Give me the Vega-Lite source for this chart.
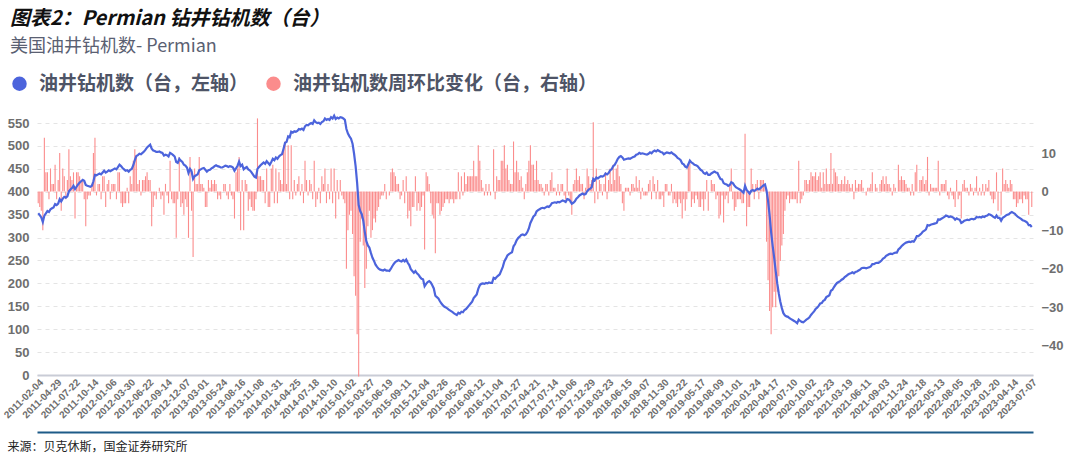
{
"$schema":"https://vega.github.io/schema/vega-lite/v6.json",
"width":1080,"height":456,
"autosize":{"type":"fit","contains":"padding"},
"padding":{"left":2,"right":16,"top":11,"bottom":4},
"background":"white",
"config":{"view":{"stroke":null},"font":"Noto Sans CJK SC"},
"title":{"text":"图表2：Permian 钻井钻机数（台）","subtitle":"美国油井钻机数- Permian","anchor":"start","frame":"bounds","dx":8,"font":"Noto Sans CJK SC","fontSize":20,"fontStyle":"italic","fontWeight":"bold","color":"#111111","subtitleFont":"Noto Sans CJK SC","subtitleFontSize":18,"subtitleColor":"#5a6072","subtitlePadding":9,"offset":55},
"data":{"values":[
{"d":"2011-02-04","n":353,"c":-3},{"d":"2011-02-11","n":349,"c":-4},{"d":"2011-02-18","n":344,"c":-5},{"d":"2011-02-25","n":334,"c":-10},{"d":"2011-03-04","n":348,"c":14},{"d":"2011-03-11","n":353,"c":5},{"d":"2011-03-18","n":358,"c":5},{"d":"2011-03-25","n":356,"c":-2},{"d":"2011-04-01","n":362,"c":6},{"d":"2011-04-08","n":364,"c":2},{"d":"2011-04-15","n":366,"c":2},{"d":"2011-04-22","n":373,"c":7},{"d":"2011-04-29","n":371,"c":-2},{"d":"2011-05-06","n":374,"c":3},{"d":"2011-05-13","n":384,"c":10},{"d":"2011-05-20","n":379,"c":-5},{"d":"2011-05-27","n":385,"c":6},{"d":"2011-06-03","n":389,"c":4},{"d":"2011-06-10","n":387,"c":-2},{"d":"2011-06-17","n":390,"c":3},{"d":"2011-06-24","n":401,"c":11},{"d":"2011-07-01","n":405,"c":4},{"d":"2011-07-08","n":408,"c":3},{"d":"2011-07-15","n":413,"c":5},{"d":"2011-07-22","n":406,"c":-7},{"d":"2011-07-29","n":411,"c":5},{"d":"2011-08-05","n":416,"c":5},{"d":"2011-08-12","n":420,"c":4},{"d":"2011-08-19","n":423,"c":3},{"d":"2011-08-26","n":426,"c":3},{"d":"2011-09-02","n":424,"c":-2},{"d":"2011-09-09","n":415,"c":-9},{"d":"2011-09-16","n":413,"c":-2},{"d":"2011-09-23","n":412,"c":-1},{"d":"2011-09-30","n":411,"c":-1},{"d":"2011-10-07","n":413,"c":2},{"d":"2011-10-14","n":423,"c":10},{"d":"2011-10-21","n":437,"c":14},{"d":"2011-10-28","n":436,"c":-1},{"d":"2011-11-04","n":438,"c":2},{"d":"2011-11-11","n":440,"c":2},{"d":"2011-11-18","n":438,"c":-2},{"d":"2011-11-25","n":442,"c":4},{"d":"2011-12-02","n":446,"c":4},{"d":"2011-12-09","n":442,"c":-4},{"d":"2011-12-16","n":444,"c":2},{"d":"2011-12-23","n":447,"c":3},{"d":"2011-12-30","n":445,"c":-2},
{"d":"2012-01-06","n":447,"c":2},{"d":"2012-01-13","n":449,"c":2},{"d":"2012-01-20","n":451,"c":2},{"d":"2012-01-27","n":449,"c":-2},{"d":"2012-02-03","n":454,"c":5},{"d":"2012-02-10","n":459,"c":5},{"d":"2012-02-17","n":456,"c":-3},{"d":"2012-02-24","n":452,"c":-4},{"d":"2012-03-02","n":449,"c":-3},{"d":"2012-03-09","n":446,"c":-3},{"d":"2012-03-16","n":447,"c":1},{"d":"2012-03-23","n":444,"c":-3},{"d":"2012-03-30","n":448,"c":4},{"d":"2012-04-06","n":450,"c":2},{"d":"2012-04-13","n":458,"c":8},{"d":"2012-04-20","n":469,"c":11},{"d":"2012-04-27","n":478,"c":9},{"d":"2012-05-04","n":480,"c":2},{"d":"2012-05-11","n":483,"c":3},{"d":"2012-05-18","n":482,"c":-1},{"d":"2012-05-25","n":485,"c":3},{"d":"2012-06-01","n":488,"c":3},{"d":"2012-06-08","n":492,"c":4},{"d":"2012-06-15","n":497,"c":5},{"d":"2012-06-22","n":500,"c":3},{"d":"2012-06-29","n":503,"c":3},{"d":"2012-07-06","n":494,"c":-9},{"d":"2012-07-13","n":490,"c":-4},{"d":"2012-07-20","n":489,"c":-1},{"d":"2012-07-27","n":487,"c":-2},{"d":"2012-08-03","n":487,"c":0},{"d":"2012-08-10","n":488,"c":1},{"d":"2012-08-17","n":486,"c":-2},{"d":"2012-08-24","n":485,"c":-1},{"d":"2012-08-31","n":479,"c":-6},{"d":"2012-09-07","n":481,"c":2},{"d":"2012-09-14","n":480,"c":-1},{"d":"2012-09-21","n":477,"c":-3},{"d":"2012-09-28","n":485,"c":8},{"d":"2012-10-05","n":483,"c":-2},{"d":"2012-10-12","n":480,"c":-3},{"d":"2012-10-19","n":477,"c":-3},{"d":"2012-10-26","n":465,"c":-12},{"d":"2012-11-02","n":463,"c":-2},{"d":"2012-11-09","n":472,"c":9},{"d":"2012-11-16","n":468,"c":-4},{"d":"2012-11-23","n":465,"c":-3},{"d":"2012-11-30","n":459,"c":-6},{"d":"2012-12-07","n":457,"c":-2},{"d":"2012-12-14","n":453,"c":-4},{"d":"2012-12-21","n":441,"c":-12},{"d":"2012-12-28","n":450,"c":9},
{"d":"2013-01-04","n":445,"c":-5},{"d":"2013-01-11","n":428,"c":-17},{"d":"2013-01-18","n":434,"c":6},{"d":"2013-01-25","n":436,"c":2},{"d":"2013-02-01","n":438,"c":2},{"d":"2013-02-08","n":447,"c":9},{"d":"2013-02-15","n":449,"c":2},{"d":"2013-02-22","n":451,"c":2},{"d":"2013-03-01","n":452,"c":1},{"d":"2013-03-08","n":448,"c":-4},{"d":"2013-03-15","n":444,"c":-4},{"d":"2013-03-22","n":447,"c":3},{"d":"2013-03-29","n":448,"c":1},{"d":"2013-04-05","n":451,"c":3},{"d":"2013-04-12","n":453,"c":2},{"d":"2013-04-19","n":456,"c":3},{"d":"2013-04-26","n":458,"c":2},{"d":"2013-05-03","n":456,"c":-2},{"d":"2013-05-10","n":455,"c":-1},{"d":"2013-05-17","n":453,"c":-2},{"d":"2013-05-24","n":453,"c":0},{"d":"2013-05-31","n":455,"c":2},{"d":"2013-06-07","n":457,"c":2},{"d":"2013-06-14","n":456,"c":-1},{"d":"2013-06-21","n":454,"c":-2},{"d":"2013-06-28","n":456,"c":2},{"d":"2013-07-05","n":455,"c":-1},{"d":"2013-07-12","n":453,"c":-2},{"d":"2013-07-19","n":446,"c":-7},{"d":"2013-07-26","n":451,"c":5},{"d":"2013-08-02","n":457,"c":6},{"d":"2013-08-09","n":466,"c":9},{"d":"2013-08-16","n":456,"c":-10},{"d":"2013-08-23","n":459,"c":3},{"d":"2013-08-30","n":449,"c":-10},{"d":"2013-09-06","n":452,"c":3},{"d":"2013-09-13","n":454,"c":2},{"d":"2013-09-20","n":449,"c":-5},{"d":"2013-09-27","n":447,"c":-2},{"d":"2013-10-04","n":443,"c":-4},{"d":"2013-10-11","n":438,"c":-5},{"d":"2013-10-18","n":433,"c":-5},{"d":"2013-10-25","n":431,"c":-2},{"d":"2013-11-01","n":450,"c":19},{"d":"2013-11-08","n":454,"c":4},{"d":"2013-11-15","n":458,"c":4},{"d":"2013-11-22","n":461,"c":3},{"d":"2013-11-29","n":464,"c":3},{"d":"2013-12-06","n":461,"c":-3},{"d":"2013-12-13","n":467,"c":6},{"d":"2013-12-20","n":463,"c":-4},{"d":"2013-12-27","n":459,"c":-4},
{"d":"2014-01-03","n":465,"c":6},{"d":"2014-01-10","n":472,"c":7},{"d":"2014-01-17","n":469,"c":-3},{"d":"2014-01-24","n":475,"c":6},{"d":"2014-01-31","n":472,"c":-3},{"d":"2014-02-07","n":477,"c":5},{"d":"2014-02-14","n":480,"c":3},{"d":"2014-02-21","n":482,"c":2},{"d":"2014-02-28","n":494,"c":12},{"d":"2014-03-07","n":507,"c":13},{"d":"2014-03-14","n":509,"c":2},{"d":"2014-03-21","n":521,"c":12},{"d":"2014-03-28","n":519,"c":-2},{"d":"2014-04-04","n":531,"c":12},{"d":"2014-04-11","n":529,"c":-2},{"d":"2014-04-18","n":532,"c":3},{"d":"2014-04-25","n":531,"c":-1},{"d":"2014-05-02","n":533,"c":2},{"d":"2014-05-09","n":537,"c":4},{"d":"2014-05-16","n":536,"c":-1},{"d":"2014-05-23","n":538,"c":2},{"d":"2014-05-30","n":535,"c":-3},{"d":"2014-06-06","n":543,"c":8},{"d":"2014-06-13","n":546,"c":3},{"d":"2014-06-20","n":545,"c":-1},{"d":"2014-06-27","n":548,"c":3},{"d":"2014-07-04","n":550,"c":2},{"d":"2014-07-11","n":548,"c":-2},{"d":"2014-07-18","n":556,"c":8},{"d":"2014-07-25","n":552,"c":-4},{"d":"2014-08-01","n":550,"c":-2},{"d":"2014-08-08","n":551,"c":1},{"d":"2014-08-15","n":548,"c":-3},{"d":"2014-08-22","n":552,"c":4},{"d":"2014-08-29","n":554,"c":2},{"d":"2014-09-05","n":560,"c":6},{"d":"2014-09-12","n":557,"c":-3},{"d":"2014-09-19","n":559,"c":2},{"d":"2014-09-26","n":557,"c":-2},{"d":"2014-10-03","n":563,"c":6},{"d":"2014-10-10","n":560,"c":-3},{"d":"2014-10-17","n":566,"c":6},{"d":"2014-10-24","n":559,"c":-7},{"d":"2014-10-31","n":562,"c":3},{"d":"2014-11-07","n":560,"c":-2},{"d":"2014-11-14","n":563,"c":3},{"d":"2014-11-21","n":562,"c":-1},{"d":"2014-11-28","n":560,"c":-2},{"d":"2014-12-05","n":557,"c":-3},{"d":"2014-12-12","n":537,"c":-20},{"d":"2014-12-19","n":527,"c":-10},{"d":"2014-12-26","n":521,"c":-6},
{"d":"2015-01-02","n":516,"c":-5},{"d":"2015-01-09","n":505,"c":-11},{"d":"2015-01-16","n":483,"c":-22},{"d":"2015-01-23","n":456,"c":-27},{"d":"2015-01-30","n":419,"c":-37},{"d":"2015-02-06","n":371,"c":-48},{"d":"2015-02-13","n":358,"c":-13},{"d":"2015-02-20","n":351,"c":-7},{"d":"2015-02-27","n":337,"c":-14},{"d":"2015-03-06","n":312,"c":-25},{"d":"2015-03-13","n":292,"c":-20},{"d":"2015-03-20","n":283,"c":-9},{"d":"2015-03-27","n":278,"c":-5},{"d":"2015-04-03","n":266,"c":-12},{"d":"2015-04-10","n":256,"c":-10},{"d":"2015-04-17","n":249,"c":-7},{"d":"2015-04-24","n":241,"c":-8},{"d":"2015-05-01","n":236,"c":-5},{"d":"2015-05-08","n":232,"c":-4},{"d":"2015-05-15","n":230,"c":-2},{"d":"2015-05-22","n":229,"c":-1},{"d":"2015-05-29","n":228,"c":-1},{"d":"2015-06-05","n":230,"c":2},{"d":"2015-06-12","n":228,"c":-2},{"d":"2015-06-19","n":228,"c":0},{"d":"2015-06-26","n":227,"c":-1},{"d":"2015-07-03","n":232,"c":5},{"d":"2015-07-10","n":238,"c":6},{"d":"2015-07-17","n":243,"c":5},{"d":"2015-07-24","n":247,"c":4},{"d":"2015-07-31","n":249,"c":2},{"d":"2015-08-07","n":251,"c":2},{"d":"2015-08-14","n":249,"c":-2},{"d":"2015-08-21","n":248,"c":-1},{"d":"2015-08-28","n":251,"c":3},{"d":"2015-09-04","n":248,"c":-3},{"d":"2015-09-11","n":252,"c":4},{"d":"2015-09-18","n":245,"c":-7},{"d":"2015-09-25","n":240,"c":-5},{"d":"2015-10-02","n":231,"c":-9},{"d":"2015-10-09","n":227,"c":-4},{"d":"2015-10-16","n":223,"c":-4},{"d":"2015-10-23","n":227,"c":4},{"d":"2015-10-30","n":222,"c":-5},{"d":"2015-11-06","n":219,"c":-3},{"d":"2015-11-13","n":214,"c":-5},{"d":"2015-11-20","n":210,"c":-4},{"d":"2015-11-27","n":209,"c":-1},{"d":"2015-12-04","n":194,"c":-15},{"d":"2015-12-11","n":199,"c":5},{"d":"2015-12-18","n":203,"c":4},{"d":"2015-12-25","n":205,"c":2},
{"d":"2016-01-01","n":202,"c":-3},{"d":"2016-01-08","n":196,"c":-6},{"d":"2016-01-15","n":189,"c":-7},{"d":"2016-01-22","n":173,"c":-16},{"d":"2016-01-29","n":170,"c":-3},{"d":"2016-02-05","n":167,"c":-3},{"d":"2016-02-12","n":161,"c":-6},{"d":"2016-02-19","n":156,"c":-5},{"d":"2016-02-26","n":152,"c":-4},{"d":"2016-03-04","n":149,"c":-3},{"d":"2016-03-11","n":147,"c":-2},{"d":"2016-03-18","n":145,"c":-2},{"d":"2016-03-25","n":142,"c":-3},{"d":"2016-04-01","n":140,"c":-2},{"d":"2016-04-08","n":138,"c":-2},{"d":"2016-04-15","n":135,"c":-3},{"d":"2016-04-22","n":133,"c":-2},{"d":"2016-04-29","n":131,"c":-2},{"d":"2016-05-06","n":136,"c":5},{"d":"2016-05-13","n":134,"c":-2},{"d":"2016-05-20","n":138,"c":4},{"d":"2016-05-27","n":137,"c":-1},{"d":"2016-06-03","n":142,"c":5},{"d":"2016-06-10","n":144,"c":2},{"d":"2016-06-17","n":148,"c":4},{"d":"2016-06-24","n":152,"c":4},{"d":"2016-07-01","n":156,"c":4},{"d":"2016-07-08","n":160,"c":4},{"d":"2016-07-15","n":168,"c":8},{"d":"2016-07-22","n":172,"c":4},{"d":"2016-07-29","n":176,"c":4},{"d":"2016-08-05","n":188,"c":12},{"d":"2016-08-12","n":196,"c":8},{"d":"2016-08-19","n":199,"c":3},{"d":"2016-08-26","n":200,"c":1},{"d":"2016-09-02","n":199,"c":-1},{"d":"2016-09-09","n":201,"c":2},{"d":"2016-09-16","n":200,"c":-1},{"d":"2016-09-23","n":202,"c":2},{"d":"2016-09-30","n":201,"c":-1},{"d":"2016-10-07","n":201,"c":0},{"d":"2016-10-14","n":212,"c":11},{"d":"2016-10-21","n":210,"c":-2},{"d":"2016-10-28","n":214,"c":4},{"d":"2016-11-04","n":217,"c":3},{"d":"2016-11-11","n":220,"c":3},{"d":"2016-11-18","n":228,"c":8},{"d":"2016-11-25","n":236,"c":8},{"d":"2016-12-02","n":248,"c":12},{"d":"2016-12-09","n":254,"c":6},{"d":"2016-12-16","n":261,"c":7},{"d":"2016-12-23","n":264,"c":3},{"d":"2016-12-30","n":266,"c":2},
{"d":"2017-01-06","n":268,"c":2},{"d":"2017-01-13","n":281,"c":13},{"d":"2017-01-20","n":286,"c":5},{"d":"2017-01-27","n":294,"c":8},{"d":"2017-02-03","n":299,"c":5},{"d":"2017-02-10","n":302,"c":3},{"d":"2017-02-17","n":306,"c":4},{"d":"2017-02-24","n":307,"c":1},{"d":"2017-03-03","n":305,"c":-2},{"d":"2017-03-10","n":307,"c":2},{"d":"2017-03-17","n":312,"c":5},{"d":"2017-03-24","n":320,"c":8},{"d":"2017-03-31","n":332,"c":12},{"d":"2017-04-07","n":339,"c":7},{"d":"2017-04-14","n":346,"c":7},{"d":"2017-04-21","n":349,"c":3},{"d":"2017-04-28","n":357,"c":8},{"d":"2017-05-05","n":360,"c":3},{"d":"2017-05-12","n":362,"c":2},{"d":"2017-05-19","n":364,"c":2},{"d":"2017-05-26","n":365,"c":1},{"d":"2017-06-02","n":364,"c":-1},{"d":"2017-06-09","n":366,"c":2},{"d":"2017-06-16","n":368,"c":2},{"d":"2017-06-23","n":367,"c":-1},{"d":"2017-06-30","n":370,"c":3},{"d":"2017-07-07","n":375,"c":5},{"d":"2017-07-14","n":376,"c":1},{"d":"2017-07-21","n":377,"c":1},{"d":"2017-07-28","n":376,"c":-1},{"d":"2017-08-04","n":378,"c":2},{"d":"2017-08-11","n":377,"c":-1},{"d":"2017-08-18","n":379,"c":2},{"d":"2017-08-25","n":381,"c":2},{"d":"2017-09-01","n":380,"c":-1},{"d":"2017-09-08","n":378,"c":-2},{"d":"2017-09-15","n":384,"c":6},{"d":"2017-09-22","n":383,"c":-1},{"d":"2017-09-29","n":380,"c":-3},{"d":"2017-10-06","n":374,"c":-6},{"d":"2017-10-13","n":376,"c":2},{"d":"2017-10-20","n":379,"c":3},{"d":"2017-10-27","n":385,"c":6},{"d":"2017-11-03","n":388,"c":3},{"d":"2017-11-10","n":392,"c":4},{"d":"2017-11-17","n":394,"c":2},{"d":"2017-11-24","n":396,"c":2},{"d":"2017-12-01","n":394,"c":-2},{"d":"2017-12-08","n":395,"c":1},{"d":"2017-12-15","n":401,"c":6},{"d":"2017-12-22","n":405,"c":4},{"d":"2017-12-29","n":407,"c":2},
{"d":"2018-01-05","n":410,"c":3},{"d":"2018-01-12","n":428,"c":18},{"d":"2018-01-19","n":425,"c":-3},{"d":"2018-01-26","n":431,"c":6},{"d":"2018-02-02","n":429,"c":-2},{"d":"2018-02-09","n":432,"c":3},{"d":"2018-02-16","n":434,"c":2},{"d":"2018-02-23","n":433,"c":-1},{"d":"2018-03-02","n":435,"c":2},{"d":"2018-03-09","n":440,"c":5},{"d":"2018-03-16","n":438,"c":-2},{"d":"2018-03-23","n":441,"c":3},{"d":"2018-03-30","n":447,"c":6},{"d":"2018-04-06","n":449,"c":2},{"d":"2018-04-13","n":456,"c":7},{"d":"2018-04-20","n":459,"c":3},{"d":"2018-04-27","n":465,"c":6},{"d":"2018-05-04","n":472,"c":7},{"d":"2018-05-11","n":476,"c":4},{"d":"2018-05-18","n":478,"c":2},{"d":"2018-05-25","n":475,"c":-3},{"d":"2018-06-01","n":470,"c":-5},{"d":"2018-06-08","n":471,"c":1},{"d":"2018-06-15","n":472,"c":1},{"d":"2018-06-22","n":473,"c":1},{"d":"2018-06-29","n":472,"c":-1},{"d":"2018-07-06","n":474,"c":2},{"d":"2018-07-13","n":476,"c":2},{"d":"2018-07-20","n":477,"c":1},{"d":"2018-07-27","n":481,"c":4},{"d":"2018-08-03","n":482,"c":1},{"d":"2018-08-10","n":485,"c":3},{"d":"2018-08-17","n":483,"c":-2},{"d":"2018-08-24","n":484,"c":1},{"d":"2018-08-31","n":483,"c":-1},{"d":"2018-09-07","n":482,"c":-1},{"d":"2018-09-14","n":481,"c":-1},{"d":"2018-09-21","n":483,"c":2},{"d":"2018-09-28","n":486,"c":3},{"d":"2018-10-05","n":484,"c":-2},{"d":"2018-10-12","n":488,"c":4},{"d":"2018-10-19","n":490,"c":2},{"d":"2018-10-26","n":488,"c":-2},{"d":"2018-11-02","n":491,"c":3},{"d":"2018-11-09","n":489,"c":-2},{"d":"2018-11-16","n":487,"c":-2},{"d":"2018-11-23","n":486,"c":-1},{"d":"2018-11-30","n":482,"c":-4},{"d":"2018-12-07","n":484,"c":2},{"d":"2018-12-14","n":486,"c":2},{"d":"2018-12-21","n":485,"c":-1},{"d":"2018-12-28","n":484,"c":-1},
{"d":"2019-01-04","n":486,"c":2},{"d":"2019-01-11","n":483,"c":-3},{"d":"2019-01-18","n":481,"c":-2},{"d":"2019-01-25","n":478,"c":-3},{"d":"2019-02-01","n":474,"c":-4},{"d":"2019-02-08","n":472,"c":-2},{"d":"2019-02-15","n":469,"c":-3},{"d":"2019-02-22","n":462,"c":-7},{"d":"2019-03-01","n":460,"c":-2},{"d":"2019-03-08","n":455,"c":-5},{"d":"2019-03-15","n":453,"c":-2},{"d":"2019-03-22","n":460,"c":7},{"d":"2019-03-29","n":468,"c":8},{"d":"2019-04-05","n":464,"c":-4},{"d":"2019-04-12","n":462,"c":-2},{"d":"2019-04-19","n":459,"c":-3},{"d":"2019-04-26","n":458,"c":-1},{"d":"2019-05-03","n":456,"c":-2},{"d":"2019-05-10","n":452,"c":-4},{"d":"2019-05-17","n":448,"c":-4},{"d":"2019-05-24","n":446,"c":-2},{"d":"2019-05-31","n":441,"c":-5},{"d":"2019-06-07","n":439,"c":-2},{"d":"2019-06-14","n":442,"c":3},{"d":"2019-06-21","n":437,"c":-5},{"d":"2019-06-28","n":437,"c":0},{"d":"2019-07-05","n":440,"c":3},{"d":"2019-07-12","n":442,"c":2},{"d":"2019-07-19","n":444,"c":2},{"d":"2019-07-26","n":442,"c":-2},{"d":"2019-08-02","n":441,"c":-1},{"d":"2019-08-09","n":434,"c":-7},{"d":"2019-08-16","n":428,"c":-6},{"d":"2019-08-23","n":427,"c":-1},{"d":"2019-08-30","n":419,"c":-8},{"d":"2019-09-06","n":417,"c":-2},{"d":"2019-09-13","n":416,"c":-1},{"d":"2019-09-20","n":413,"c":-3},{"d":"2019-09-27","n":415,"c":2},{"d":"2019-10-04","n":421,"c":6},{"d":"2019-10-11","n":419,"c":-2},{"d":"2019-10-18","n":414,"c":-5},{"d":"2019-10-25","n":410,"c":-4},{"d":"2019-11-01","n":408,"c":-2},{"d":"2019-11-08","n":406,"c":-2},{"d":"2019-11-15","n":404,"c":-2},{"d":"2019-11-22","n":401,"c":-3},{"d":"2019-11-29","n":398,"c":-3},{"d":"2019-12-06","n":413,"c":15},{"d":"2019-12-13","n":404,"c":-9},{"d":"2019-12-20","n":400,"c":-4},{"d":"2019-12-27","n":396,"c":-4},
{"d":"2020-01-03","n":402,"c":6},{"d":"2020-01-10","n":404,"c":2},{"d":"2020-01-17","n":402,"c":-2},{"d":"2020-01-24","n":404,"c":2},{"d":"2020-01-31","n":407,"c":3},{"d":"2020-02-07","n":405,"c":-2},{"d":"2020-02-14","n":408,"c":3},{"d":"2020-02-21","n":411,"c":3},{"d":"2020-02-28","n":414,"c":3},{"d":"2020-03-06","n":416,"c":2},{"d":"2020-03-13","n":403,"c":-13},{"d":"2020-03-20","n":380,"c":-23},{"d":"2020-03-27","n":349,"c":-31},{"d":"2020-04-03","n":312,"c":-37},{"d":"2020-04-10","n":282,"c":-30},{"d":"2020-04-17","n":256,"c":-26},{"d":"2020-04-24","n":226,"c":-30},{"d":"2020-05-01","n":200,"c":-26},{"d":"2020-05-08","n":178,"c":-22},{"d":"2020-05-15","n":160,"c":-18},{"d":"2020-05-22","n":146,"c":-14},{"d":"2020-05-29","n":135,"c":-11},{"d":"2020-06-05","n":130,"c":-5},{"d":"2020-06-12","n":128,"c":-2},{"d":"2020-06-19","n":127,"c":-1},{"d":"2020-06-26","n":124,"c":-3},{"d":"2020-07-03","n":122,"c":-2},{"d":"2020-07-10","n":120,"c":-2},{"d":"2020-07-17","n":118,"c":-2},{"d":"2020-07-24","n":116,"c":-2},{"d":"2020-07-31","n":113,"c":-3},{"d":"2020-08-07","n":121,"c":8},{"d":"2020-08-14","n":118,"c":-3},{"d":"2020-08-21","n":116,"c":-2},{"d":"2020-08-28","n":115,"c":-1},{"d":"2020-09-04","n":118,"c":3},{"d":"2020-09-11","n":121,"c":3},{"d":"2020-09-18","n":123,"c":2},{"d":"2020-09-25","n":126,"c":3},{"d":"2020-10-02","n":131,"c":5},{"d":"2020-10-09","n":135,"c":4},{"d":"2020-10-16","n":139,"c":4},{"d":"2020-10-23","n":144,"c":5},{"d":"2020-10-30","n":147,"c":3},{"d":"2020-11-06","n":151,"c":4},{"d":"2020-11-13","n":156,"c":5},{"d":"2020-11-20","n":157,"c":1},{"d":"2020-11-27","n":162,"c":5},{"d":"2020-12-04","n":164,"c":2},{"d":"2020-12-11","n":170,"c":6},{"d":"2020-12-18","n":172,"c":2},{"d":"2020-12-23","n":174,"c":2},
{"d":"2021-01-01","n":184,"c":10},{"d":"2021-01-08","n":186,"c":2},{"d":"2021-01-15","n":192,"c":6},{"d":"2021-01-22","n":197,"c":5},{"d":"2021-01-29","n":201,"c":4},{"d":"2021-02-05","n":203,"c":2},{"d":"2021-02-12","n":205,"c":2},{"d":"2021-02-19","n":208,"c":3},{"d":"2021-02-26","n":210,"c":2},{"d":"2021-03-05","n":214,"c":4},{"d":"2021-03-12","n":216,"c":2},{"d":"2021-03-19","n":219,"c":3},{"d":"2021-03-26","n":221,"c":2},{"d":"2021-04-02","n":222,"c":1},{"d":"2021-04-09","n":224,"c":2},{"d":"2021-04-16","n":222,"c":-2},{"d":"2021-04-23","n":225,"c":3},{"d":"2021-04-30","n":226,"c":1},{"d":"2021-05-07","n":228,"c":2},{"d":"2021-05-14","n":230,"c":2},{"d":"2021-05-21","n":233,"c":3},{"d":"2021-05-28","n":234,"c":1},{"d":"2021-06-04","n":234,"c":0},{"d":"2021-06-11","n":233,"c":-1},{"d":"2021-06-18","n":234,"c":1},{"d":"2021-06-25","n":235,"c":1},{"d":"2021-07-02","n":237,"c":2},{"d":"2021-07-09","n":242,"c":5},{"d":"2021-07-16","n":242,"c":0},{"d":"2021-07-23","n":244,"c":2},{"d":"2021-07-30","n":245,"c":1},{"d":"2021-08-06","n":245,"c":0},{"d":"2021-08-13","n":247,"c":2},{"d":"2021-08-20","n":250,"c":3},{"d":"2021-08-27","n":254,"c":4},{"d":"2021-09-03","n":256,"c":2},{"d":"2021-09-10","n":260,"c":4},{"d":"2021-09-17","n":262,"c":2},{"d":"2021-09-24","n":264,"c":2},{"d":"2021-10-01","n":265,"c":1},{"d":"2021-10-08","n":264,"c":-1},{"d":"2021-10-15","n":266,"c":2},{"d":"2021-10-22","n":267,"c":1},{"d":"2021-10-29","n":267,"c":0},{"d":"2021-11-05","n":274,"c":7},{"d":"2021-11-12","n":277,"c":3},{"d":"2021-11-19","n":281,"c":4},{"d":"2021-11-24","n":284,"c":3},{"d":"2021-12-03","n":287,"c":3},{"d":"2021-12-10","n":289,"c":2},{"d":"2021-12-17","n":290,"c":1},{"d":"2021-12-23","n":291,"c":1},{"d":"2021-12-31","n":290,"c":-1},
{"d":"2022-01-07","n":292,"c":2},{"d":"2022-01-14","n":291,"c":-1},{"d":"2022-01-21","n":296,"c":5},{"d":"2022-01-28","n":303,"c":7},{"d":"2022-02-04","n":303,"c":0},{"d":"2022-02-11","n":306,"c":3},{"d":"2022-02-18","n":309,"c":3},{"d":"2022-02-25","n":313,"c":4},{"d":"2022-03-04","n":315,"c":2},{"d":"2022-03-11","n":318,"c":3},{"d":"2022-03-18","n":327,"c":9},{"d":"2022-03-25","n":326,"c":-1},{"d":"2022-04-01","n":328,"c":2},{"d":"2022-04-08","n":329,"c":1},{"d":"2022-04-14","n":330,"c":1},{"d":"2022-04-22","n":331,"c":1},{"d":"2022-04-29","n":332,"c":1},{"d":"2022-05-06","n":340,"c":8},{"d":"2022-05-13","n":339,"c":-1},{"d":"2022-05-20","n":341,"c":2},{"d":"2022-05-27","n":343,"c":2},{"d":"2022-06-03","n":345,"c":2},{"d":"2022-06-10","n":348,"c":3},{"d":"2022-06-17","n":347,"c":-1},{"d":"2022-06-24","n":345,"c":-2},{"d":"2022-07-01","n":346,"c":1},{"d":"2022-07-08","n":345,"c":-1},{"d":"2022-07-15","n":343,"c":-2},{"d":"2022-07-22","n":339,"c":-4},{"d":"2022-07-29","n":342,"c":3},{"d":"2022-08-05","n":340,"c":-2},{"d":"2022-08-12","n":339,"c":-1},{"d":"2022-08-19","n":332,"c":-7},{"d":"2022-08-26","n":334,"c":2},{"d":"2022-09-02","n":337,"c":3},{"d":"2022-09-09","n":338,"c":1},{"d":"2022-09-16","n":339,"c":1},{"d":"2022-09-23","n":338,"c":-1},{"d":"2022-09-30","n":340,"c":2},{"d":"2022-10-07","n":341,"c":1},{"d":"2022-10-14","n":340,"c":-1},{"d":"2022-10-21","n":341,"c":1},{"d":"2022-10-28","n":345,"c":4},{"d":"2022-11-04","n":344,"c":-1},{"d":"2022-11-11","n":345,"c":1},{"d":"2022-11-18","n":344,"c":-1},{"d":"2022-11-23","n":346,"c":2},{"d":"2022-12-02","n":345,"c":-1},{"d":"2022-12-09","n":347,"c":2},{"d":"2022-12-16","n":348,"c":1},{"d":"2022-12-23","n":351,"c":3},{"d":"2022-12-30","n":350,"c":-1},
{"d":"2023-01-06","n":348,"c":-2},{"d":"2023-01-13","n":345,"c":-3},{"d":"2023-01-20","n":343,"c":-2},{"d":"2023-01-27","n":348,"c":5},{"d":"2023-02-03","n":343,"c":-5},{"d":"2023-02-10","n":343,"c":0},{"d":"2023-02-17","n":337,"c":-6},{"d":"2023-02-24","n":343,"c":6},{"d":"2023-03-03","n":345,"c":2},{"d":"2023-03-10","n":348,"c":3},{"d":"2023-03-17","n":350,"c":2},{"d":"2023-03-24","n":351,"c":1},{"d":"2023-03-31","n":354,"c":3},{"d":"2023-04-06","n":356,"c":2},{"d":"2023-04-14","n":354,"c":-2},{"d":"2023-04-21","n":352,"c":-2},{"d":"2023-04-28","n":348,"c":-4},{"d":"2023-05-05","n":345,"c":-3},{"d":"2023-05-12","n":343,"c":-2},{"d":"2023-05-19","n":341,"c":-2},{"d":"2023-05-26","n":338,"c":-3},{"d":"2023-06-02","n":337,"c":-1},{"d":"2023-06-09","n":335,"c":-2},{"d":"2023-06-16","n":333,"c":-2},{"d":"2023-06-23","n":327,"c":-6},{"d":"2023-06-30","n":327,"c":0},{"d":"2023-07-07","n":323,"c":-4}
]},
"resolve":{"scale":{"y":"independent"},"axis":{"x":"independent"}},
"layer":[
{"mark":{"type":"bar","width":1.1},
 "encoding":{
  "x":{"field":"d","type":"ordinal","sort":null,"scale":{"paddingInner":0,"paddingOuter":0.3},
   "axis":{"orient":"bottom","values":["2011-02-04","2011-04-29","2011-07-22","2011-10-14","2012-01-06","2012-03-30","2012-06-22","2012-09-14","2012-12-07","2013-03-01","2013-05-24","2013-08-16","2013-11-08","2014-01-31","2014-04-25","2014-07-18","2014-10-10","2015-01-02","2015-03-27","2015-06-19","2015-09-11","2015-12-04","2016-02-26","2016-05-20","2016-08-12","2016-11-04","2017-01-27","2017-04-21","2017-07-14","2017-10-06","2017-12-29","2018-03-23","2018-06-15","2018-09-07","2018-11-30","2019-02-22","2019-05-17","2019-08-09","2019-11-01","2020-01-24","2020-04-17","2020-07-10","2020-10-02","2020-12-23","2021-03-19","2021-06-11","2021-09-03","2021-11-24","2022-02-18","2022-05-13","2022-08-05","2022-10-28","2023-01-20","2023-04-14","2023-07-07"],
    "labelAngle":-45,"labelFontSize":10,"labelFont":"Liberation Sans","labelFontWeight":"bold","labelColor":"#6e6e6e","labelOverlap":false,"labelPadding":2,"ticks":false,"grid":false,"domainColor":"#c9ccd6","domainWidth":2,"title":null}},
  "y":{"field":"c","type":"quantitative","scale":{"domain":[-47.6,20.4],"nice":false,"zero":false},
   "axis":{"orient":"right","values":[-40,-30,-20,-10,0,10],"grid":false,"domain":false,"ticks":false,"labelFontSize":13,"labelFont":"Liberation Sans","labelFontWeight":"bold","labelColor":"#6e6e6e","labelPadding":8,"title":null}},
  "y2":{"datum":0},
  "color":{"datum":"油井钻机数周环比变化（台，右轴）","type":"nominal",
   "scale":{"domain":["油井钻机数（台，左轴）","油井钻机数周环比变化（台，右轴）"],"range":["#4c64dc","#fb8c8c"]},
   "legend":{"orient":"none","legendX":-27,"legendY":-39,"direction":"horizontal","title":null,"symbolType":"circle","symbolSize":210,"symbolStrokeWidth":0,"labelFontSize":19,"labelFont":"Noto Sans CJK SC","labelFontWeight":"bold","labelColor":"#4e5466","labelLimit":500,"labelOffset":10,"columnPadding":15,
    "encode":{"symbols":{"update":{"fill":{"scale":"color","field":"value"},"strokeWidth":{"value":0},"opacity":{"value":1}}}}}}
 }},
{"mark":{"type":"line","strokeWidth":2.2,"interpolate":"linear"},
 "encoding":{
  "x":{"field":"d","type":"ordinal","sort":null,
   "axis":{"orient":"bottom","offset":57,"labels":false,"ticks":false,"grid":false,"domainColor":"#1d5b88","domainWidth":2,
    "title":"来源：贝克休斯，国金证券研究所","titleFont":"Noto Sans CJK SC","titleFontSize":12,"titleFontWeight":"normal","titleColor":"#222222","titleAnchor":"start","titleAlign":"left","titleBaseline":"alphabetic","titleX":-30,"titleY":18}},
  "y":{"field":"n","type":"quantitative","scale":{"domain":[0,572],"nice":false,"zero":true},
   "axis":{"orient":"left","values":[0,50,100,150,200,250,300,350,400,450,500,550],"grid":true,"gridDash":[4,4],"gridColor":"#e4e4e4","domain":false,"ticks":false,"labelFontSize":13,"labelFont":"Liberation Sans","labelFontWeight":"bold","labelColor":"#6e6e6e","labelPadding":8,"title":null}},
  "color":{"datum":"油井钻机数（台，左轴）","type":"nominal"}
 }}
]
}
